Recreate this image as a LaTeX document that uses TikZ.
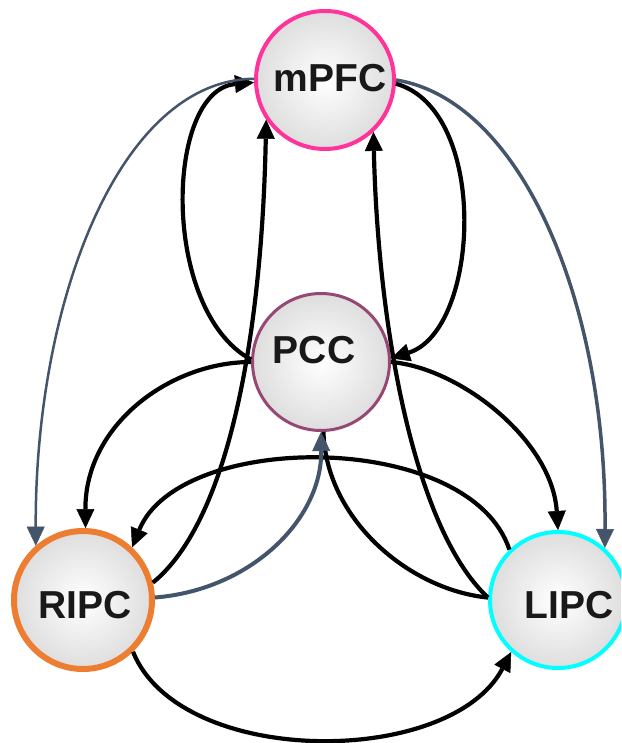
\documentclass[tikz,border=0pt]{standalone}
\usepackage{fontspec}
\setmainfont{Liberation Sans}
\usetikzlibrary{arrows.meta}
\definecolor{pinkc}{RGB}{255,51,153}
\definecolor{pccc}{RGB}{150,72,115}
\definecolor{orangec}{RGB}{237,125,49}
\definecolor{cyanc}{RGB}{0,255,255}
\definecolor{slate}{RGB}{68,84,106}
\definecolor{txt}{RGB}{25,25,25}
\begin{document}
\begin{tikzpicture}[x=1pt,y=-1pt,
  region/.style={circle, shading=radial, inner color=white, outer color=black!13, inner sep=0pt},
  lbl/.style={inner sep=0pt, font=\fontsize{39}{39}\selectfont\bfseries, text=txt},
  tipk/.style={-{Triangle[length=19pt,width=18pt,line width=0.5pt]}},
  blk/.style={line width=4.2pt, draw=black, tipk},
  gry/.style={line width=3.5pt, draw=slate, tipk},
]
\clip (0,0) rectangle (621,743);
% regions
\node[region, draw=pinkc, line width=4pt, minimum size=138pt] (m) at (325,80) {};
\node[region, draw=pccc, line width=3pt, minimum size=137pt] (p) at (321,362) {};
\node[region, draw=orangec, line width=6pt, minimum size=138pt] (r) at (83,600) {};
\node[region, draw=cyanc, line width=4pt, minimum size=136pt] (l) at (558,600) {};
% labels
\node[lbl] (tm) at (330,78) {mPFC};
\node[lbl] (tp) at (314,350) {PCC};
\node[lbl] (tr) at (85,605) {RIPC};
\node[lbl] (tl) at (569,605) {LIPC};
% black connections
\draw[blk] (p.178) .. controls (160,310) and (165,90) .. (m.182);
\draw[blk] (m.357) .. controls (490,110) and (480,330) .. (p.3);
\draw[blk] (r.14) .. controls (230,520) and (262,330) .. (m.214);
\draw[blk] (l.178) .. controls (415,530) and (378,330) .. (m.313);
\draw[blk] (p.180) .. controls (170,362) and (85,425) .. (r.88);
\draw[blk] (p.0) .. controls (460,368) and (552,440) .. (l.90);
\draw[blk] (l.134) .. controls (470,430) and (180,430) .. (r.47);
\draw[line width=4.2pt] (l.178) .. controls (410,590) and (326,520) .. (p.272);
\draw[blk] (r.314) .. controls (180,768) and (450,768) .. (l.228);
% slate connections
\draw[gry, line width=2.5pt] (m.179) .. controls (120,80) and (35,300) .. (r.131);
\draw[gry] (m.0) .. controls (520,100) and (607,300) .. (l.48);
\draw[gry, line width=4pt] (r.2) .. controls (250,590) and (322,520) .. (p.270);
\end{tikzpicture}
\end{document}
